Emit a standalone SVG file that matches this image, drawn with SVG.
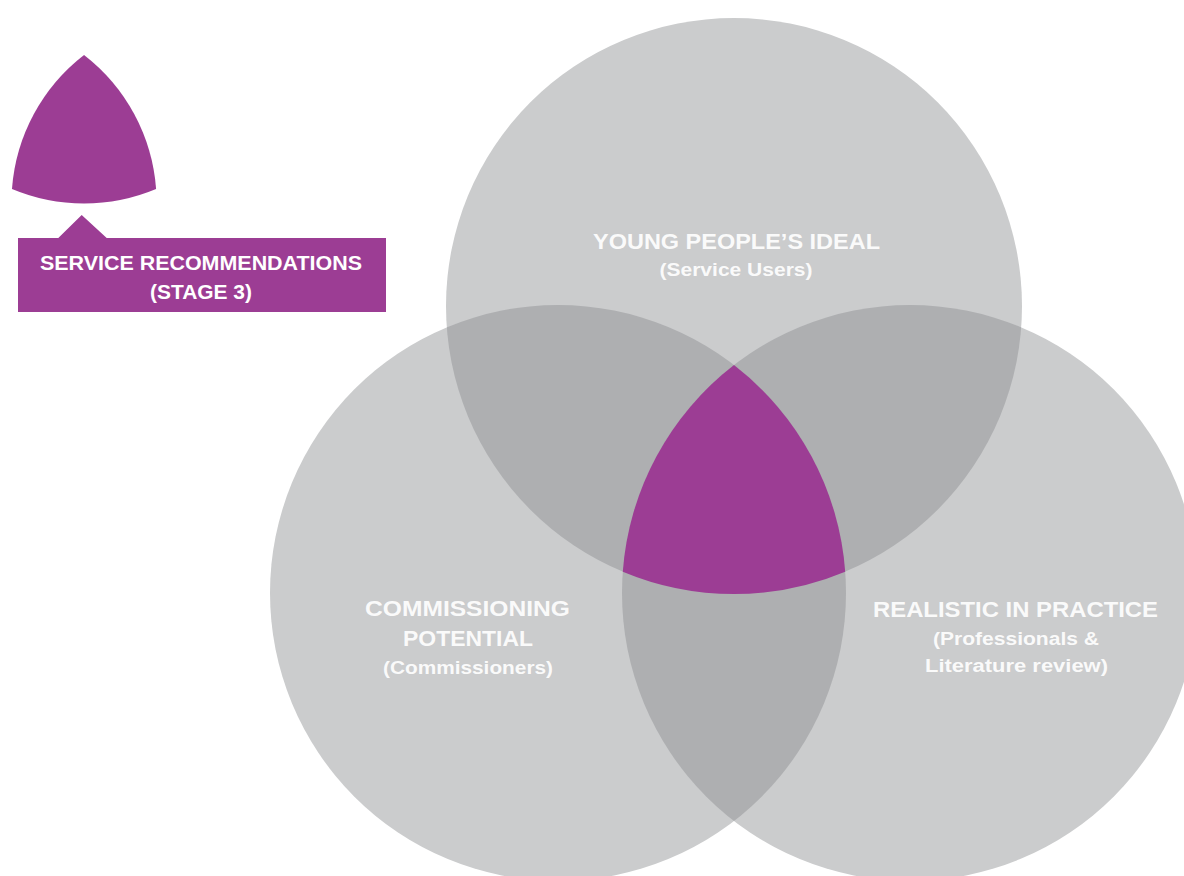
<svg xmlns="http://www.w3.org/2000/svg" width="1184" height="876" viewBox="0 0 1184 876">
<style>
.c{fill:#cbcccd}
.o{fill:#aeafb1}
.p{fill:#9c3d94}
.t{font-family:"Liberation Sans",Arial,sans-serif;font-weight:bold;fill:#ffffff;text-anchor:middle}
.lbl{fill-opacity:0.92}
.h{font-size:22px}
.s{font-size:18px}
.b{font-size:20px}
</style>
<defs>
<path id="tri" d="M734 365 A288 288 0 0 1 845.2 571.7 A288 288 0 0 1 622.8 571.7 A288 288 0 0 1 734 365 Z"/>
<clipPath id="clipT"><circle cx="734" cy="306" r="288"/></clipPath>
<clipPath id="clipL"><circle cx="558" cy="593" r="288"/></clipPath>
</defs>
<rect width="1184" height="876" fill="#ffffff"/>
<g id="circle-top"><circle class="c" cx="734" cy="306" r="288"/></g>
<g id="circle-left"><circle class="c" cx="558" cy="593" r="288"/></g>
<g id="circle-right"><circle class="c" cx="910" cy="593" r="288"/></g>
<g id="overlaps">
<circle class="o" cx="558" cy="593" r="288" clip-path="url(#clipT)"/>
<circle class="o" cx="910" cy="593" r="288" clip-path="url(#clipT)"/>
<circle class="o" cx="910" cy="593" r="288" clip-path="url(#clipL)"/>
</g>
<g id="center"><use href="#tri" class="p"/></g>
<g id="label-top" class="t lbl">
<text class="h" x="736.5" y="249" textLength="287" lengthAdjust="spacingAndGlyphs">YOUNG PEOPLE’S IDEAL</text>
<text class="s" x="736" y="276" textLength="153" lengthAdjust="spacingAndGlyphs">(Service Users)</text>
</g>
<g id="label-left" class="t lbl">
<text class="h" x="467.5" y="616" textLength="205" lengthAdjust="spacingAndGlyphs">COMMISSIONING</text>
<text class="h" x="468" y="646" textLength="130" lengthAdjust="spacingAndGlyphs">POTENTIAL</text>
<text class="s" x="468" y="674" textLength="170" lengthAdjust="spacingAndGlyphs">(Commissioners)</text>
</g>
<g id="label-right" class="t lbl">
<text class="h" x="1015.5" y="617" textLength="285" lengthAdjust="spacingAndGlyphs">REALISTIC IN PRACTICE</text>
<text class="s" x="1016" y="645" textLength="166" lengthAdjust="spacingAndGlyphs">(Professionals &amp;</text>
<text class="s" x="1016.5" y="672" textLength="183" lengthAdjust="spacingAndGlyphs">Literature review)</text>
</g>
<g id="legend-icon"><use href="#tri" class="p" transform="translate(-391.6 -181.5) scale(0.648)"/></g>
<g id="legend-box">
<path class="p" d="M18 238 H58.3 L81.7 215 L106.7 238 H386 V312 H18 Z"/>
<text class="t b" x="201" y="270" textLength="322" lengthAdjust="spacingAndGlyphs">SERVICE RECOMMENDATIONS</text>
<text class="t b" x="201" y="299" textLength="102" lengthAdjust="spacingAndGlyphs">(STAGE 3)</text>
</g>
</svg>
